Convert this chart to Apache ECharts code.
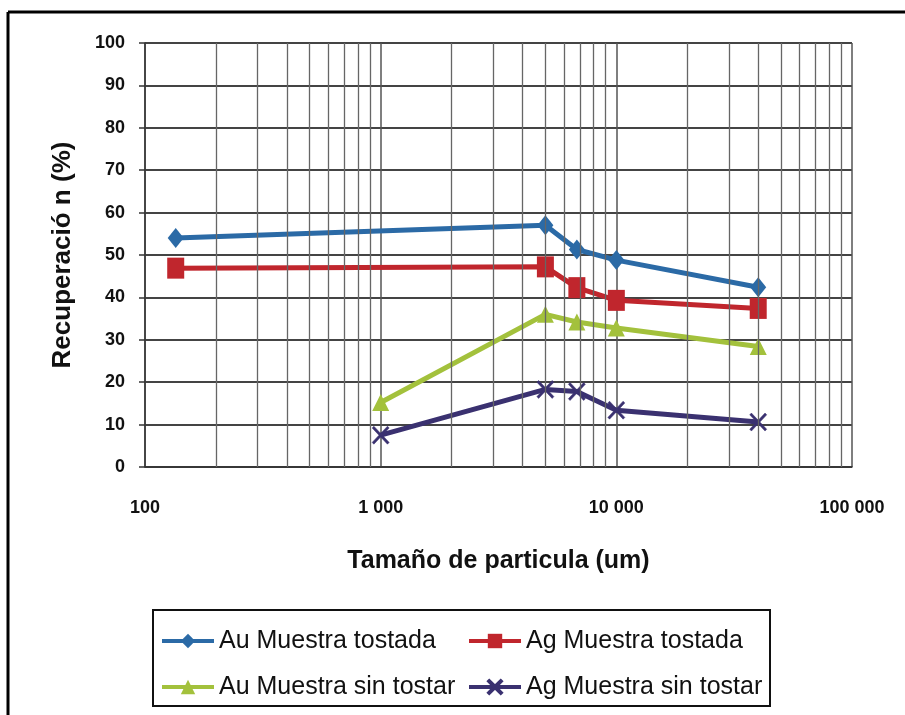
<!DOCTYPE html>
<html>
<head>
<meta charset="utf-8">
<script src="https://cdn.jsdelivr.net/npm/echarts@6/dist/echarts.min.js"></script>
<style>
html,body{margin:0;padding:0;background:#fff;}
#chart{width:905px;height:715px;}
</style>
</head>
<body>
<div id="chart"></div>
<script>
// ---- data ----
const seriesNames = ['Au Muestra tostada', 'Ag Muestra tostada', 'Au Muestra sin tostar', 'Ag Muestra sin tostar'];
const sizesTostada = [135, 5000, 6800, 10000, 40000];
const sizesSinTostar = [1000, 5000, 6800, 10000, 40000];
const auTostada = [54.0, 57.0, 51.3, 48.8, 42.4];
const agTostada = [46.9, 47.2, 42.3, 39.3, 37.4];
const auSinTostar = [15.2, 36.0, 34.2, 32.8, 28.4];
const agSinTostar = [7.5, 18.3, 17.8, 13.4, 10.6];
const xTicks = [100, 1000, 10000, 100000];
const minorX = [200,300,400,500,600,700,800,900,2000,3000,4000,5000,6000,7000,8000,9000,20000,30000,40000,50000,60000,70000,80000,90000];
const yTicks = [0,10,20,30,40,50,60,70,80,90,100];

const FONT = '"Liberation Sans", Arial, sans-serif';
const pair = (xs, ys) => xs.map((x, i) => [x, ys[i]]);
const fmt = v => String(Math.round(v)).replace(/\B(?=(\d{3})+(?!\d))/g, ' ');
const xShape = 'path://M0,1 L1,0 L5,4 L9,0 L10,1 L6,5 L10,9 L9,10 L5,6 L1,10 L0,9 L4,5 Z';

const colors = ['#2b6aa6', '#c0262d', '#a3c13c', '#3a3170'];
const symbols = ['diamond', 'rect', 'triangle', xShape];
const symSizes = [[16, 20], [17, 21], [17, 17], [17, 18]];
const datasets = [
  pair(sizesTostada, auTostada),
  pair(sizesTostada, agTostada),
  pair(sizesSinTostar, auSinTostar),
  pair(sizesSinTostar, agSinTostar)
];

const dataSeries = seriesNames.map((name, i) => ({
  name: name,
  type: 'line',
  data: datasets[i],
  symbol: symbols[i],
  symbolSize: symSizes[i],
  showSymbol: true,
  z: 3,
  lineStyle: { color: colors[i], width: 5 },
  itemStyle: { color: colors[i], borderColor: colors[i], borderWidth: i === 3 ? 0.5 : 0 },
  animation: false
}));

const minorSeries = {
  name: '_minor',
  type: 'line',
  data: [],
  z: 1,
  silent: true,
  markLine: {
    silent: true,
    symbol: ['none', 'none'],
    label: { show: false },
    animation: false,
    lineStyle: { color: '#666', width: 1.3, type: 'solid' },
    data: minorX.map(v => ({ xAxis: v }))
  }
};

const legendRows = [641, 687];
const legendCols = [160, 467];
const legends = seriesNames.map((name, i) => ({
  data: [name],
  left: legendCols[i % 2],
  top: legendRows[Math.floor(i / 2)] - 14,
  padding: 0,
  itemWidth: 52,
  itemHeight: 18,
  itemGap: 0,
  lineStyle: { width: 4 },
  textStyle: { fontFamily: FONT, fontSize: 25, color: '#111', lineHeight: 28 },
  selectedMode: false
}));

const chart = echarts.init(document.getElementById('chart'), null, { renderer: 'canvas' });
chart.setOption({
  backgroundColor: '#fff',
  animation: false,
  grid: { left: 145, right: 53, top: 43, bottom: 248, containLabel: false },
  legend: legends,
  xAxis: {
    type: 'log',
    logBase: 10,
    min: xTicks[0],
    max: xTicks[xTicks.length - 1],
    name: 'Tamaño de particula (um)',
    nameLocation: 'middle',
    nameGap: 82,
    nameTextStyle: { fontFamily: FONT, fontSize: 25, fontWeight: 'bold', color: '#111' },
    axisLine: { show: true, lineStyle: { color: '#333', width: 1.5 } },
    axisTick: { show: false },
    axisLabel: {
      fontFamily: FONT, fontSize: 18, fontWeight: 'bold', color: '#111', margin: 32,
      formatter: v => fmt(v),
      showMinLabel: true, showMaxLabel: true
    },
    splitLine: { show: true, lineStyle: { color: '#555', width: 1.5 } }
  },
  yAxis: {
    type: 'value',
    min: yTicks[0],
    max: yTicks[yTicks.length - 1],
    interval: 10,
    name: 'Recuperació n (%)',
    nameLocation: 'middle',
    nameGap: 69,
    nameRotate: 90,
    nameTextStyle: { fontFamily: FONT, fontSize: 26, fontWeight: 'bold', color: '#111' },
    axisLine: { show: true, lineStyle: { color: '#333', width: 1.5 } },
    axisTick: { show: true, length: 6, inside: false, lineStyle: { color: '#333', width: 1.5 } },
    axisLabel: { fontFamily: FONT, fontSize: 18, fontWeight: 'bold', color: '#111', margin: 20 },
    splitLine: { show: true, lineStyle: { color: '#444', width: 1.8 } }
  },
  graphic: [
    { type: 'line', shape: { x1: 8, y1: 12, x2: 905, y2: 12 }, style: { stroke: '#000', lineWidth: 3 }, silent: true, z: 100 },
    { type: 'line', shape: { x1: 8, y1: 12, x2: 8, y2: 715 }, style: { stroke: '#000', lineWidth: 3 }, silent: true, z: 100 },
    { type: 'rect', shape: { x: 153, y: 610, width: 617, height: 96 }, style: { fill: 'none', stroke: '#111', lineWidth: 2 }, silent: true, z: 100 }
  ],
  series: [minorSeries].concat(dataSeries)
});
</script>
</body>
</html>
